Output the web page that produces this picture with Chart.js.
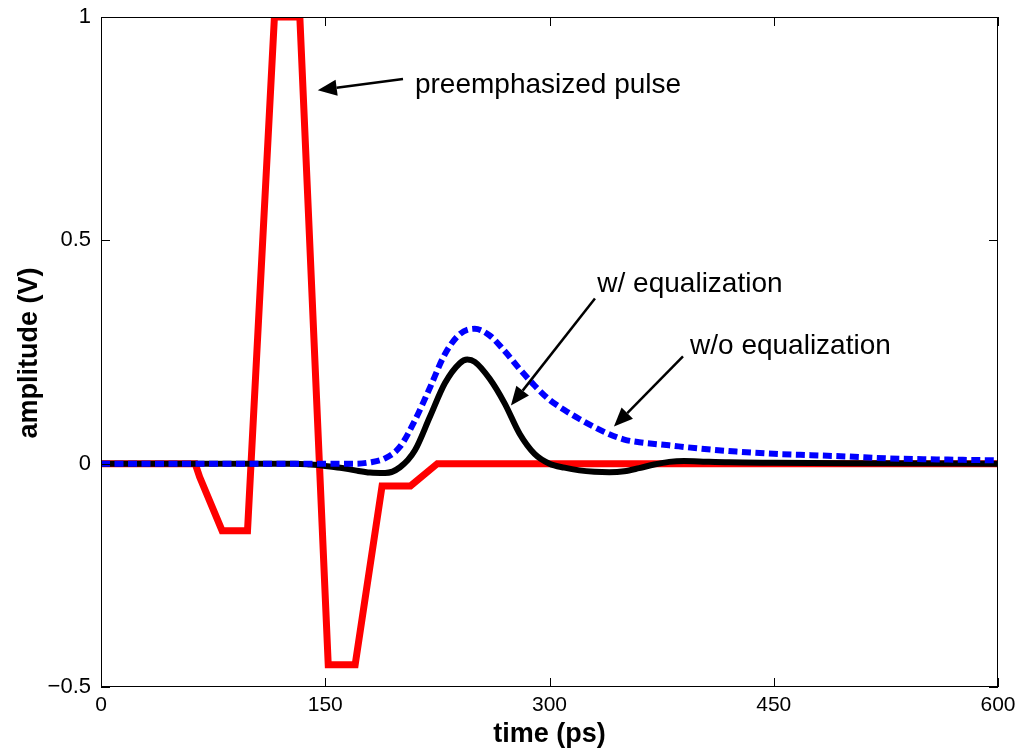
<!DOCTYPE html>
<html>
<head>
<meta charset="utf-8">
<script src="https://cdn.jsdelivr.net/npm/chart.js@4/dist/chart.umd.min.js"></script>
<style>
  html, body { margin: 0; padding: 0; background: #fff; }
  #chart { display: block; }
</style>
</head>
<body>
<canvas id="chart" width="1018" height="751"></canvas>
<script>
// time axis in ps, amplitude in V
var xTicks = [0, 150, 300, 450, 600];
var yTicks = [-0.5, 0, 0.5, 1];

// preemphasized pulse (red)
var pulseT = [0, 63, 66, 81, 98, 116, 133, 152, 170, 188, 207, 225, 600];
var pulseV = [0, 0, -0.03, -0.15, -0.15, 1, 1, -0.45, -0.45, -0.05, -0.05, 0, 0];

// w/ equalization (black)
var eqT = [0, 130, 140, 150, 160, 170, 180, 190, 200, 210, 220, 230, 240, 245, 250, 260, 270, 280, 290, 300, 310, 320, 330, 340, 350, 360, 370, 380, 390, 400, 420, 450, 500, 600];
var eqV = [0, 0, -0.002, -0.005, -0.009, -0.015, -0.02, -0.021, -0.008, 0.03, 0.105, 0.18, 0.225, 0.233, 0.228, 0.19, 0.135, 0.067, 0.022, 0, -0.009, -0.015, -0.018, -0.019, -0.017, -0.01, -0.002, 0.004, 0.006, 0.005, 0.003, 0.002, 0.001, 0];

// w/o equalization (blue dashed)
var noEqT = [0, 170, 180, 190, 200, 210, 220, 230, 240, 250, 260, 270, 280, 290, 300, 310, 320, 330, 340, 350, 360, 380, 400, 425, 450, 475, 500, 525, 550, 600];
var noEqV = [0, 0, 0.003, 0.012, 0.038, 0.097, 0.17, 0.245, 0.29, 0.302, 0.287, 0.252, 0.212, 0.175, 0.143, 0.12, 0.1, 0.082, 0.066, 0.054, 0.048, 0.041, 0.034, 0.027, 0.022, 0.019, 0.016, 0.012, 0.01, 0.0075];

// annotations: text position and arrow (from -> tip), in data units
var notes = [
  { text: 'preemphasized pulse', tx: 210, ty: 0.848, ax: 202, ay: 0.861, bx: 145, by: 0.836 },
  { text: 'w/ equalization', tx: 332, ty: 0.401, ax: 330.4, ay: 0.37, bx: 274.2, by: 0.13 },
  { text: 'w/o equalization', tx: 394, ty: 0.262, ax: 389.3, ay: 0.24, bx: 343.1, by: 0.083 }
];

function pts(ts, vs) {
  return ts.map(function (t, i) { return { x: t, y: vs[i] }; });
}

var frame = {
  id: 'frame',
  afterDatasetsDraw: function (chart) {
    var ctx = chart.ctx, a = chart.chartArea;
    var xs = chart.scales.x, ys = chart.scales.y;
    ctx.save();
    ctx.strokeStyle = '#000';
    ctx.lineWidth = 1;
    ctx.strokeRect(a.left + 0.5, a.top + 0.5, a.right - a.left - 1, a.bottom - a.top - 1);
    // inward ticks on all four sides
    ctx.beginPath();
    xTicks.forEach(function (v) {
      var px = Math.round(xs.getPixelForValue(v)) + 0.5;
      ctx.moveTo(px, a.bottom); ctx.lineTo(px, a.bottom - 9);
      ctx.moveTo(px, a.top); ctx.lineTo(px, a.top + 9);
    });
    yTicks.forEach(function (v) {
      var py = Math.round(ys.getPixelForValue(v)) + 0.5;
      ctx.moveTo(a.left, py); ctx.lineTo(a.left + 9, py);
      ctx.moveTo(a.right, py); ctx.lineTo(a.right - 9, py);
    });
    ctx.stroke();

    // annotations
    ctx.fillStyle = '#000';
    ctx.font = '28px "Liberation Sans", Arial, sans-serif';
    ctx.textBaseline = 'middle';
    ctx.textAlign = 'left';
    notes.forEach(function (n) {
      ctx.fillText(n.text, xs.getPixelForValue(n.tx), ys.getPixelForValue(n.ty));
      var x1 = xs.getPixelForValue(n.ax), y1 = ys.getPixelForValue(n.ay);
      var x2 = xs.getPixelForValue(n.bx), y2 = ys.getPixelForValue(n.by);
      var ang = Math.atan2(y2 - y1, x2 - x1);
      var hl = 19, hw = 8;
      var bx = x2 - hl * Math.cos(ang), by = y2 - hl * Math.sin(ang);
      ctx.lineWidth = 2.5;
      ctx.beginPath();
      ctx.moveTo(x1, y1); ctx.lineTo(bx, by);
      ctx.stroke();
      ctx.beginPath();
      ctx.moveTo(x2, y2);
      ctx.lineTo(bx + hw * Math.sin(ang), by - hw * Math.cos(ang));
      ctx.lineTo(bx - hw * Math.sin(ang), by + hw * Math.cos(ang));
      ctx.closePath();
      ctx.fill();
    });

    // axis titles
    ctx.font = 'bold 27px "Liberation Sans", Arial, sans-serif';
    ctx.textAlign = 'center';
    ctx.fillText('time (ps)', (a.left + a.right) / 2, 735);
    ctx.translate(30, 353);
    ctx.rotate(-Math.PI / 2);
    ctx.fillText('amplitude (V)', 0, 0);
    ctx.restore();
  }
};

var ctx = document.getElementById('chart').getContext('2d');
new Chart(ctx, {
  type: 'line',
  data: {
    datasets: [{
      label: 'preemphasized pulse',
      data: pts(pulseT, pulseV),
      borderColor: '#ff0000',
      borderWidth: 7,
      tension: 0,
      order: 3
    }, {
      label: 'w/ equalization',
      data: pts(eqT, eqV),
      borderColor: '#000000',
      borderWidth: 6,
      cubicInterpolationMode: 'monotone',
      order: 2
    }, {
      label: 'w/o equalization',
      data: pts(noEqT, noEqV),
      borderColor: '#0000ff',
      borderWidth: 6,
      borderDash: [9, 4.5],
      borderCapStyle: 'butt',
      cubicInterpolationMode: 'monotone',
      order: 1
    }]
  },
  options: {
    responsive: false,
    animation: false,
    layout: { padding: { left: 0, top: 17, right: 20, bottom: 0 } },
    elements: { point: { radius: 0 }, line: { fill: false, borderJoinStyle: 'miter' } },
    plugins: { legend: { display: false }, tooltip: { enabled: false } },
    scales: {
      x: {
        type: 'linear',
        min: 0, max: 600,
        afterFit: function (s) { s.height = 64; s.paddingLeft = 0; s.paddingRight = 0; },
        afterBuildTicks: function (s) { s.ticks = xTicks.map(function (v) { return { value: v }; }); },
        grid: { display: false, drawTicks: false },
        border: { display: false },
        ticks: { color: '#000', padding: 6, font: { family: '"Liberation Sans", Arial', size: 21 }, maxRotation: 0 }
      },
      y: {
        type: 'linear',
        min: -0.5, max: 1,
        afterFit: function (s) { s.width = 101; s.paddingTop = 0; s.paddingBottom = 0; },
        afterBuildTicks: function (s) { s.ticks = yTicks.map(function (v) { return { value: v }; }); },
        grid: { display: false, drawTicks: false },
        border: { display: false },
        ticks: {
          color: '#000', padding: 10,
          font: { family: '"Liberation Sans", Arial', size: 22 },
          callback: function (v) { return String(v).replace('-', '\u2212'); }
        }
      }
    }
  },
  plugins: [frame]
});
</script>
</body>
</html>
